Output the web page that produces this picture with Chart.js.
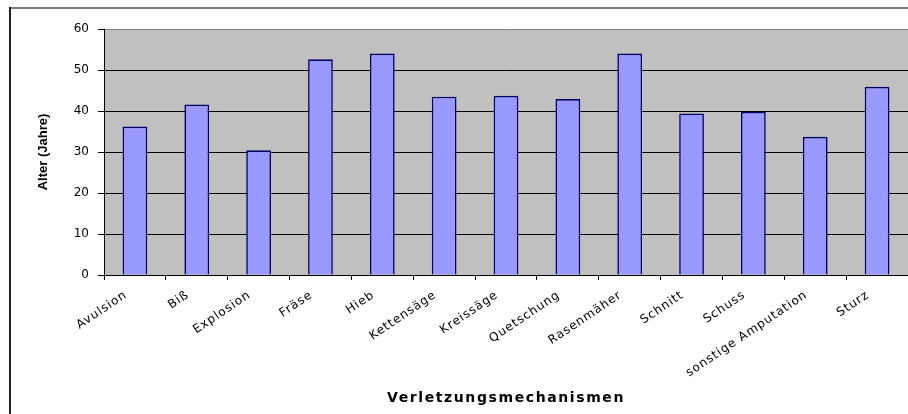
<!DOCTYPE html>
<html>
<head>
<meta charset="utf-8">
<script src="https://cdn.jsdelivr.net/npm/chart.js@4/dist/chart.umd.min.js"></script>
<style>
  html, body { margin: 0; padding: 0; background: #ffffff; }
  canvas { display: block; }
</style>
</head>
<body>
<canvas id="chart" width="908" height="414"></canvas>
<script>
// Verletzungsmechanismen und mittleres Alter
const categories = [
  'Avulsion', 'Biß', 'Explosion', 'Fräse', 'Hieb', 'Kettensäge', 'Kreissäge',
  'Quetschung', 'Rasenmäher', 'Schnitt', 'Schuss', 'sonstige Amputation', 'Sturz'
];
const alterJahre = [36.2, 41.6, 30.4, 52.6, 54.0, 43.5, 43.7, 42.9, 54.0, 39.4, 39.8, 33.7, 45.9];
const yTicks = [0, 10, 20, 30, 40, 50, 60];

const FONT = "'DejaVu Sans', 'Liberation Sans', Arial, sans-serif";
const FONT_NARROW = "'Liberation Sans', Arial, sans-serif";

// Wraps a scale's text-drawing method: extra letter spacing and a small nudge.
function withSpacing(scale, method, px, dx = 0, dy = 0) {
  const key = '_spaced_' + method;
  if (scale[key]) return;
  const orig = scale[method];
  scale[method] = function (...args) {
    const c = this.ctx;
    c.save();
    c.letterSpacing = px;
    c.translate(dx, dy);
    orig.apply(this, args);
    c.restore();
  };
  scale[key] = true;
}

const frame = {
  id: 'frame',
  beforeDraw(chart) {
    const { ctx, chartArea: a, width, height } = chart;
    withSpacing(chart.scales.x, 'drawLabels', '1px', -9, 0);
    withSpacing(chart.scales.x, 'drawTitle', '1.6px');
    ctx.save();
    ctx.fillStyle = '#ffffff';
    ctx.fillRect(0, 0, width, height);
    // plot area
    ctx.fillStyle = '#c0c0c0';
    ctx.fillRect(a.left, a.top, a.right - a.left, a.bottom - a.top);
    // outer chart frame
    ctx.strokeStyle = '#7a7a7a';
    ctx.lineWidth = 2;
    ctx.beginPath();
    ctx.moveTo(9, 8);
    ctx.lineTo(width, 8);
    ctx.stroke();
    ctx.strokeStyle = '#222222';
    ctx.beginPath();
    ctx.moveTo(10, 7);
    ctx.lineTo(10, height);
    ctx.stroke();
    ctx.restore();
  }
};

new Chart(document.getElementById('chart'), {
  type: 'bar',
  data: {
    labels: categories,
    datasets: [{
      data: alterJahre,
      backgroundColor: '#9999ff',
      borderColor: '#000066',
      borderWidth: 1.6,
      barPercentage: 0.4,
      categoryPercentage: 1.0
    }]
  },
  options: {
    responsive: false,
    animation: false,
    layout: { padding: { top: 29, left: 0, right: 0, bottom: 0 } },
    plugins: {
      legend: { display: false },
      tooltip: { enabled: false }
    },
    scales: {
      x: {
        offset: true,
        afterFit(scale) { scale.height = 139; },
        grid: {
          offset: true,
          drawOnChartArea: false,
          drawTicks: true,
          tickLength: 5,
          color: '#000000',
          lineWidth: 1
        },
        border: { display: true, color: '#000000', width: 1 },
        ticks: {
          minRotation: 34,
          maxRotation: 34,
          autoSkip: false,
          padding: 8,
          color: '#000000',
          font: { family: FONT, size: 12 }
        },
        title: {
          display: true,
          text: 'Verletzungsmechanismen',
          color: '#000000',
          font: { family: FONT, size: 14, weight: 'bold' },
          padding: { top: 0, bottom: 7 }
        }
      },
      y: {
        min: 0,
        max: 60,
        afterFit(scale) { scale.width = 104; },
        afterBuildTicks(scale) { scale.ticks = yTicks.map(v => ({ value: v })); },
        grid: {
          color: ctx => (ctx.tick && ctx.tick.value === 60 ? '#808080' : '#000000'),
          lineWidth: 1,
          drawTicks: true,
          tickLength: 6,
          tickColor: '#000000'
        },
        border: { display: true, color: '#000000', width: 1 },
        ticks: {
          padding: 9,
          color: '#000000',
          font: { family: FONT, size: 12 }
        },
        title: {
          display: true,
          text: 'Alter (Jahre)',
          color: '#000000',
          font: { family: FONT_NARROW, size: 13, weight: 'bold' },
          padding: { top: 36, bottom: 0 }
        }
      }
    }
  },
  plugins: [frame]
});
</script>
</body>
</html>
